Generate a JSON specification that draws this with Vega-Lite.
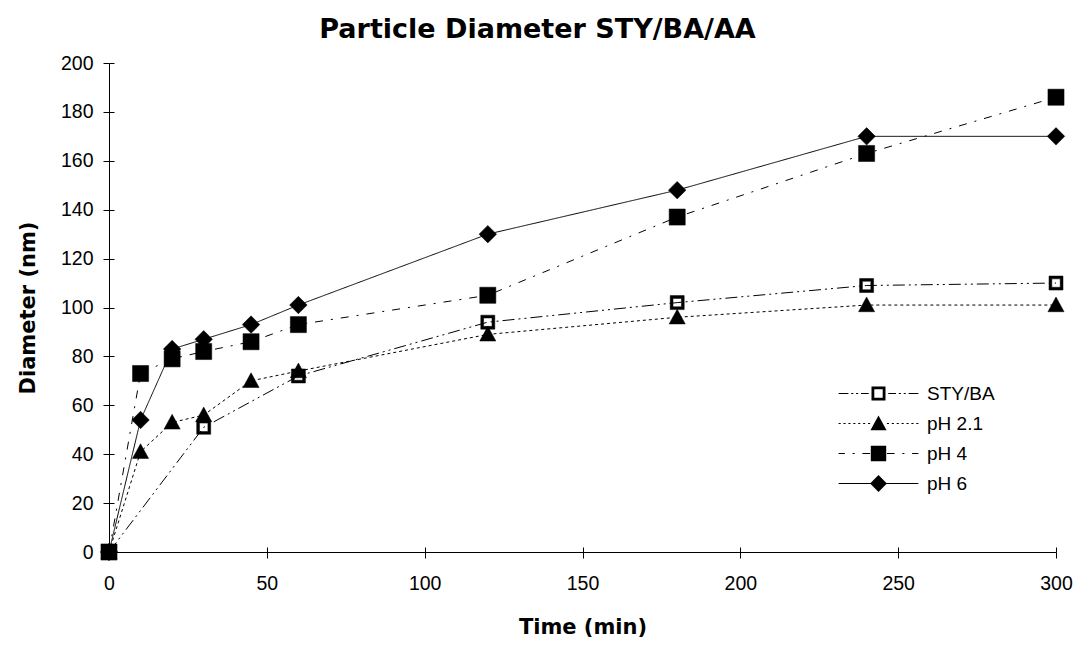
{
  "$schema": "https://vega.github.io/schema/vega-lite/v6.json",
  "width": 947,
  "height": 489,
  "autosize": {"type": "none"},
  "padding": {"left": 109, "top": 63, "right": 17, "bottom": 94},
  "background": "white",
  "title": {
    "text": "Particle Diameter STY/BA/AA",
    "font": "DejaVu Sans",
    "fontSize": 27,
    "fontWeight": "bold",
    "color": "black",
    "anchor": "middle",
    "dx": -45,
    "offset": 9
  },
  "config": {
    "view": {"stroke": null},
    "axis": {
      "grid": false,
      "domainColor": "black",
      "domainWidth": 1,
      "tickColor": "black",
      "tickWidth": 1,
      "tickSize": 6,
      "labelFlush": false,
      "labelFont": "Liberation Sans",
      "labelFontSize": 19.5,
      "labelColor": "black",
      "titleFont": "DejaVu Sans",
      "titleFontSize": 21,
      "titleFontWeight": "bold",
      "titleColor": "black"
    }
  },
  "data": {
    "values": [
      {"t": 0, "d": 0, "s": "STY/BA"},
      {"t": 30, "d": 51, "s": "STY/BA"},
      {"t": 60, "d": 72, "s": "STY/BA"},
      {"t": 120, "d": 94, "s": "STY/BA"},
      {"t": 180, "d": 102, "s": "STY/BA"},
      {"t": 240, "d": 109, "s": "STY/BA"},
      {"t": 300, "d": 110, "s": "STY/BA"},
      {"t": 0, "d": 0, "s": "pH 2.1"},
      {"t": 10, "d": 41, "s": "pH 2.1"},
      {"t": 20, "d": 53, "s": "pH 2.1"},
      {"t": 30, "d": 56, "s": "pH 2.1"},
      {"t": 45, "d": 70, "s": "pH 2.1"},
      {"t": 60, "d": 74, "s": "pH 2.1"},
      {"t": 120, "d": 89, "s": "pH 2.1"},
      {"t": 180, "d": 96, "s": "pH 2.1"},
      {"t": 240, "d": 101, "s": "pH 2.1"},
      {"t": 300, "d": 101, "s": "pH 2.1"},
      {"t": 0, "d": 0, "s": "pH 4"},
      {"t": 10, "d": 73, "s": "pH 4"},
      {"t": 20, "d": 79, "s": "pH 4"},
      {"t": 30, "d": 82, "s": "pH 4"},
      {"t": 45, "d": 86, "s": "pH 4"},
      {"t": 60, "d": 93, "s": "pH 4"},
      {"t": 120, "d": 105, "s": "pH 4"},
      {"t": 180, "d": 137, "s": "pH 4"},
      {"t": 240, "d": 163, "s": "pH 4"},
      {"t": 300, "d": 186, "s": "pH 4"},
      {"t": 0, "d": 0, "s": "pH 6"},
      {"t": 10, "d": 54, "s": "pH 6"},
      {"t": 20, "d": 83, "s": "pH 6"},
      {"t": 30, "d": 87, "s": "pH 6"},
      {"t": 45, "d": 93, "s": "pH 6"},
      {"t": 60, "d": 101, "s": "pH 6"},
      {"t": 120, "d": 130, "s": "pH 6"},
      {"t": 180, "d": 148, "s": "pH 6"},
      {"t": 240, "d": 170, "s": "pH 6"},
      {"t": 300, "d": 170, "s": "pH 6"}
    ]
  },
  "layer": [
    {
      "mark": {"type": "line", "color": "black", "strokeWidth": 1},
      "encoding": {
        "x": {
          "field": "t",
          "type": "quantitative",
          "scale": {"domain": [0, 300], "nice": false},
          "axis": {"orient": "bottom", "title": "Time (min)", "values": [0, 50, 100, 150, 200, 250, 300], "labelPadding": 16, "titlePadding": 24}
        },
        "y": {
          "field": "d",
          "type": "quantitative",
          "scale": {"domain": [0, 200], "nice": false},
          "axis": {"orient": "left", "title": "Diameter (nm)", "values": [0, 20, 40, 60, 80, 100, 120, 140, 160, 180, 200], "labelPadding": 10, "titlePadding": 22}
        },
        "strokeDash": {
          "field": "s",
          "type": "nominal",
          "scale": {
            "domain": ["STY/BA", "pH 2.1", "pH 4", "pH 6"],
            "range": [[12, 4, 2, 4, 2, 4], [3, 3], [8, 8, 2, 8], [1, 0]]
          },
          "legend": null
        }
      }
    },
    {
      "mark": {"type": "point", "filled": true, "fill": "black", "stroke": "black", "strokeWidth": 0.5, "size": 196, "opacity": 1},
      "encoding": {
        "x": {
          "field": "t",
          "type": "quantitative",
          "axis": {"orient": "bottom", "title": null, "labels": false, "domain": false, "tickSize": -5, "values": [0, 50, 100, 150, 200, 250, 300]}
        },
        "y": {
          "field": "d",
          "type": "quantitative",
          "axis": {"orient": "left", "title": null, "labels": false, "domain": false, "tickSize": -5, "values": [0, 20, 40, 60, 80, 100, 120, 140, 160, 180, 200]}
        },
        "shape": {
          "field": "s",
          "type": "nominal",
          "scale": {
            "domain": ["STY/BA", "pH 2.1", "pH 4", "pH 6"],
            "range": [
              "M-1,-1H1V1H-1ZM-0.6,-0.6V0.6H0.6V-0.6Z",
              "M0,-1.15L1.15,0.95H-1.15Z",
              "M-1.15,-1.15H1.15V1.15H-1.15Z",
              "M0,-1.25L1.25,0L0,1.25L-1.25,0Z"
            ]
          },
          "legend": null
        }
      }
    },
    {
      "mark": {"type": "point", "filled": true, "fill": "black", "size": 196, "opacity": 0},
      "encoding": {
        "x": {"field": "t", "type": "quantitative", "axis": null},
        "y": {"field": "d", "type": "quantitative", "axis": null},
        "shape": {
          "field": "s",
          "type": "nominal",
          "scale": {
            "domain": ["STY/BA", "pH 2.1", "pH 4", "pH 6"],
            "range": [
              "M-5.7,-0.075H-4.3V0.075H-5.7ZM-3.9,-0.075H-3.6V0.075H-3.9ZM-3.2,-0.075H-2.9V0.075H-3.2ZM-2.5,-0.075H-1.4V0.075H-2.5ZM1.4,-0.075H2.5V0.075H1.4ZM2.9,-0.075H3.2V0.075H2.9ZM3.6,-0.075H3.9V0.075H3.6ZM4.3,-0.075H5.7V0.075H4.3ZM-1,-1H1V1H-1ZM-0.6,-0.6V0.6H0.6V-0.6Z",
              "M-5.7,-0.075H-5.4V0.075H-5.7ZM-5,-0.075H-4.7V0.075H-5ZM-4.3,-0.075H-4V0.075H-4.3ZM-3.6,-0.075H-3.3V0.075H-3.6ZM-2.9,-0.075H-2.6V0.075H-2.9ZM-2.2,-0.075H-1.9V0.075H-2.2ZM-1.5,-0.075H-1.2V0.075H-1.5ZM1.2,-0.075H1.5V0.075H1.2ZM1.9,-0.075H2.2V0.075H1.9ZM2.6,-0.075H2.9V0.075H2.6ZM3.3,-0.075H3.6V0.075H3.3ZM4,-0.075H4.3V0.075H4ZM4.7,-0.075H5V0.075H4.7ZM5.4,-0.075H5.7V0.075H5.4ZM0,-1.15L1.15,0.95H-1.15Z",
              "M-5.7,-0.075H-4.8V0.075H-5.7ZM-3.7,-0.075H-3.4V0.075H-3.7ZM-2.3,-0.075H-1.2V0.075H-2.3ZM1.2,-0.075H2.3V0.075H1.2ZM3.4,-0.075H3.7V0.075H3.4ZM4.8,-0.075H5.7V0.075H4.8ZM-1.1,-1.1H1.1V1.1H-1.1Z",
              "M-5.7,-0.075H5.7V0.075H-5.7ZM0,-1.2L1.2,0L0,1.2L-1.2,0Z"
            ]
          },
          "legend": {
            "title": null,
            "orient": "none",
            "legendX": 760,
            "legendY": 321,
            "padding": 0,
            "labelFont": "Liberation Sans",
            "labelFontSize": 19,
            "labelColor": "black",
            "labelOffset": 39,
            "rowPadding": 10,
            "symbolSize": 196,
            "symbolFillColor": "black",
            "symbolStrokeColor": "black",
            "symbolStrokeWidth": 0,
            "symbolOpacity": 1
          }
        }
      }
    }
  ],
  "resolve": {"scale": {"shape": "independent"}, "axis": {"x": "independent", "y": "independent"}}
}
